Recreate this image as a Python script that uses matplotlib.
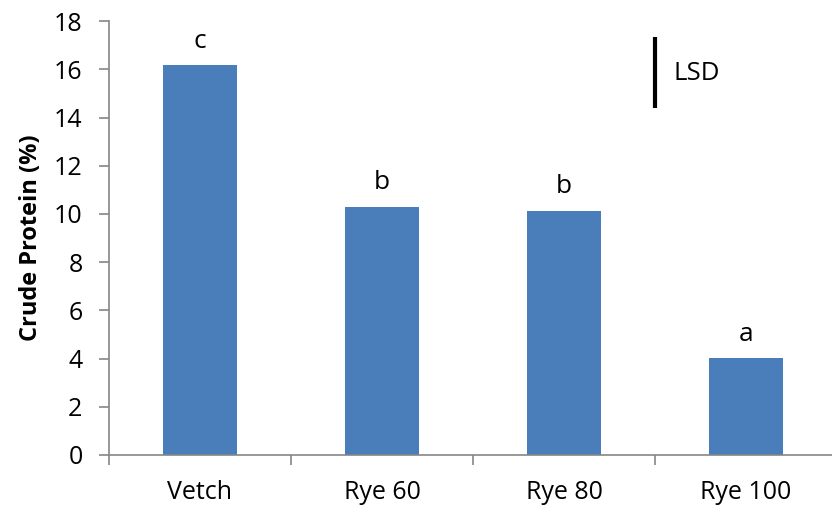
import matplotlib.pyplot as plt
import numpy as np

plt.rcParams['font.family'] = ['Open Sans', 'DejaVu Sans']

treatments = ['Vetch', 'Rye 60', 'Rye 80', 'Rye 100']
protein = [16.17, 10.30, 10.14, 4.01]
letters = ['c', 'b', 'b', 'a']
lsd_low, lsd_high = 14.38, 17.33

fig = plt.figure(figsize=(8.32, 5.07), dpi=100)
ax = fig.add_axes([0.131, 0.1026, 0.875, 0.8556])

x = np.arange(len(treatments))
ax.bar(x, protein, width=0.41, color='#4A7EBB')

# significance letters above bars
for xi, val, lab in zip(x, protein, letters):
    ax.text(xi, val + 1.0, lab, ha='center', va='center', fontsize=19)

# LSD bar
ax.plot([2.5, 2.5], [lsd_low, lsd_high], color='black', lw=3, solid_capstyle='butt')
ax.text(2.6, 15.85, 'LSD', ha='left', va='center', fontsize=18.5)

ax.set_xlim(-0.5, 3.5)
ax.set_ylim(0, 18)
ax.set_yticks(np.arange(0, 19, 2))
ax.set_xticks(x)
ax.set_xticklabels(treatments)
ax.set_xticks(np.arange(-0.5, 4, 1), minor=True)
ax.tick_params(axis='x', which='major', length=0, pad=18, labelsize=18)
ax.tick_params(axis='x', which='minor', length=7, width=1.2, color='#868686', direction='out')
ax.tick_params(axis='y', length=7, width=1.2, color='#868686', labelsize=18, pad=12)

for side in ['top', 'right']:
    ax.spines[side].set_visible(False)
for side in ['left', 'bottom']:
    ax.spines[side].set_color('#868686')
    ax.spines[side].set_linewidth(1.2)

ax.set_ylabel('Crude Protein (%)', fontsize=17, fontweight='bold', labelpad=8)

fig.savefig('out.png', dpi=100)
